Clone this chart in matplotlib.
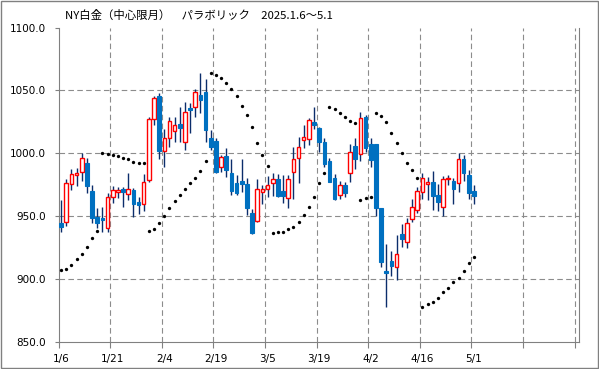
import matplotlib
matplotlib.use("Agg")
import matplotlib.pyplot as plt
from matplotlib.patches import Rectangle
import numpy as np

plt.rcParams['font.family'] = ['DejaVu Sans', 'Noto Sans CJK JP']

# daily OHLC (81 trading days, 1/6 .. 5/1)
opens = [944.8, 945.1, 975.3, 982.8, 984.9, 992.0, 970.0, 949.6, 948.5, 940.8,
         965.0, 969.0, 971.6, 967.4, 970.6, 961.5, 959.4, 979.0, 1027.3, 1045.9,
         1002.1, 1011.8, 1018.0, 1023.0, 1008.7, 1035.8, 1036.6, 1046.4, 1048.5, 1011.8,
         1009.8, 989.4, 997.9, 984.1, 976.1, 978.0, 975.6, 952.2, 946.3, 969.5,
         971.4, 976.6, 979.3, 969.8, 964.2, 984.9, 996.0, 1010.6, 1011.1, 1024.6,
         1019.9, 1009.3, 993.6, 980.1, 966.8, 974.8, 984.1, 1005.8, 999.2, 1028.9,
         1007.4, 1007.4, 956.7, 906.3, 914.3, 909.8, 935.7, 929.1, 947.5, 954.9,
         969.5, 975.6, 976.9, 966.8, 957.0, 979.3, 977.9, 976.1, 995.2, 982.7,
         970.0]
highs = [962.9, 979.6, 987.3, 988.1, 1000.5, 996.6, 974.8, 956.8, 957.0, 968.2,
         974.0, 973.0, 973.5, 984.0, 972.1, 965.5, 983.3, 1029.2, 1045.9, 1047.7,
         1019.3, 1029.1, 1029.1, 1037.1, 1041.1, 1040.3, 1050.9, 1063.6, 1058.8, 1018.5,
         1011.8, 998.6, 1003.9, 995.8, 982.8, 995.8, 980.1, 955.7, 979.6, 974.8,
         982.2, 984.1, 983.3, 982.8, 982.8, 1004.7, 1013.3, 1022.5, 1028.4, 1036.6,
         1021.2, 1011.9, 996.5, 983.5, 978.2, 976.9, 1007.1, 1011.9, 1032.6, 1030.5,
         1011.9, 1007.4, 956.7, 927.5, 922.4, 934.9, 943.7, 948.2, 963.4, 973.5,
         984.1, 981.4, 985.9, 975.3, 982.2, 982.7, 980.1, 1000.5, 998.6, 986.7,
         974.8]
lows = [937.7, 942.4, 971.1, 974.3, 978.2, 968.7, 944.8, 940.3, 937.7, 937.7,
        960.7, 964.2, 957.0, 962.9, 949.6, 951.5, 954.1, 977.5, 1022.5, 995.5,
        989.4, 1004.7, 1009.3, 1009.3, 1002.6, 1015.9, 1029.1, 1031.8, 1009.3, 1002.6,
        984.1, 985.4, 981.4, 966.8, 966.8, 969.5, 950.9, 935.8, 945.6, 960.0,
        965.5, 966.1, 965.5, 960.7, 956.2, 963.6, 976.1, 1004.5, 1006.6, 1019.3,
        1000.8, 989.1, 976.9, 962.8, 963.6, 965.5, 976.9, 987.5, 993.9, 1001.3,
        989.4, 950.1, 909.7, 877.4, 902.6, 899.2, 925.7, 924.9, 945.6, 952.8,
        963.4, 962.8, 954.9, 954.3, 950.4, 974.8, 959.4, 969.5, 978.2, 963.6,
        959.4]
closes = [941.6, 976.1, 983.3, 984.4, 996.0, 974.3, 948.8, 944.8, 947.2, 965.0,
          970.6, 970.6, 969.5, 971.4, 959.4, 958.6, 976.9, 1027.3, 1043.8, 1002.1,
          1011.8, 1025.4, 1022.2, 1020.4, 1032.6, 1034.5, 1048.5, 1042.4, 1018.5, 1005.3,
          985.4, 996.8, 986.8, 970.3, 968.7, 975.6, 956.8, 936.8, 971.3, 971.4,
          974.8, 979.3, 966.1, 966.3, 979.3, 995.2, 1005.3, 1012.7, 1026.2, 1022.5,
          1009.3, 991.5, 977.4, 963.6, 974.8, 968.7, 1000.8, 995.5, 1027.8, 1004.5,
          994.7, 956.2, 913.7, 905.0, 910.6, 919.6, 931.7, 944.2, 957.0, 970.0,
          980.1, 976.9, 966.3, 961.5, 979.3, 980.3, 971.8, 995.2, 984.6, 968.7,
          966.3]
# parabolic SAR dots
sar = [907.2, 908.0, 910.9, 915.9, 919.6, 925.7, 932.4, 938.2, 1000.5, 999.7,
       998.4, 997.6, 996.0, 995.2, 993.4, 992.6, 992.0, 938.2, 939.5, 944.3,
       950.1, 956.2, 962.0, 966.8, 971.3, 976.1, 980.1, 985.7, 993.9, 1063.6,
       1062.6, 1059.6, 1056.2, 1051.4, 1045.6, 1037.6, 1030.5, 1020.7, 1008.5, 998.6,
       989.5, 936.3, 937.1, 937.6, 939.5, 941.1, 945.1, 950.9, 957.5, 965.5,
       976.1, 984.1, 1036.6, 1035.0, 1032.3, 1029.1, 1025.9, 1023.8, 962.9, 964.2,
       965.5, 1031.8, 1030.0, 1025.2, 1015.9, 1007.9, 999.9, 992.5, 986.7, 980.5,
       877.4, 879.8, 881.4, 885.1, 889.9, 893.1, 897.3, 900.5, 906.6, 912.4,
       917.7]
date_labels = ["1/6", "1/21", "2/4", "2/19", "3/5", "3/19", "4/2", "4/16", "5/1"]
label_pos = [0, 10, 20, 30, 40, 50, 60, 70, 80]

o = np.array(opens)
h = np.array(highs)
l = np.array(lows)
c = np.array(closes)
x = np.arange(len(o))
up = c >= o

red = "#FF0000"
blue = "#0070C0"
wick = "#0B2D6B"
grid_c = "#8C8C8C"

fig = plt.figure(figsize=(5.99, 3.69), dpi=100)
ax = fig.add_axes([0.0977, 0.0737, 0.8694, 0.8515])

# gridlines
for v in [900, 950, 1000, 1050]:
    ax.axhline(v, color=grid_c, lw=0.8, ls=(0, (5, 3)), zorder=0)
for g in np.arange(9.5, 100, 10):
    ax.axvline(g, color=grid_c, lw=0.8, ls=(0, (5, 3)), zorder=0)

# candles
ax.vlines(x, l, h, color=wick, lw=1.0, zorder=2)
bw = 0.7
ax.bar(x[up], c[up] - o[up], bottom=o[up], width=bw, facecolor="white",
       edgecolor=red, lw=1.0, zorder=3)
ax.bar(x[~up], o[~up] - c[~up], bottom=c[~up], width=bw, facecolor=blue,
       edgecolor=blue, lw=0.8, zorder=3)

# parabolic SAR
ax.plot(x, sar, ls="none", marker="o", ms=2.4, mew=0, color="black", zorder=4)

ax.set_xlim(-0.5, 100.4)
ax.set_ylim(850, 1100)
ax.set_yticks(np.arange(850, 1101, 50))
ax.set_yticklabels([f"{v:.1f}" for v in np.arange(850, 1101, 50)])
ax.set_xticks(label_pos)
ax.set_xticklabels(date_labels)
ax.set_xticks(np.arange(-0.5, 100, 10), minor=True)
ax.tick_params(axis="x", which="major", length=0, pad=9, labelsize=7.5)
ax.tick_params(axis="x", which="minor", length=4, color="#808080", width=0.8)
ax.tick_params(axis="y", length=3, color="#808080", width=0.8, pad=6, labelsize=7.5)

for s in ["left", "bottom", "right"]:
    ax.spines[s].set_color("#808080")
    ax.spines[s].set_linewidth(0.8)
ax.spines["top"].set_visible(False)

fig.text(65 / 599, 1 - 15 / 369, "NY白金（中心限月）　パラボリック　2025.1.6～5.1",
         family=["Noto Sans CJK JP", "DejaVu Sans"], fontsize=8.2, va="center", ha="left")

fig.patches.append(Rectangle((0.001, 0.002), 0.997, 0.996, transform=fig.transFigure,
                             fill=False, edgecolor="#808080", lw=1.0))

fig.savefig("out.png", dpi=100)
